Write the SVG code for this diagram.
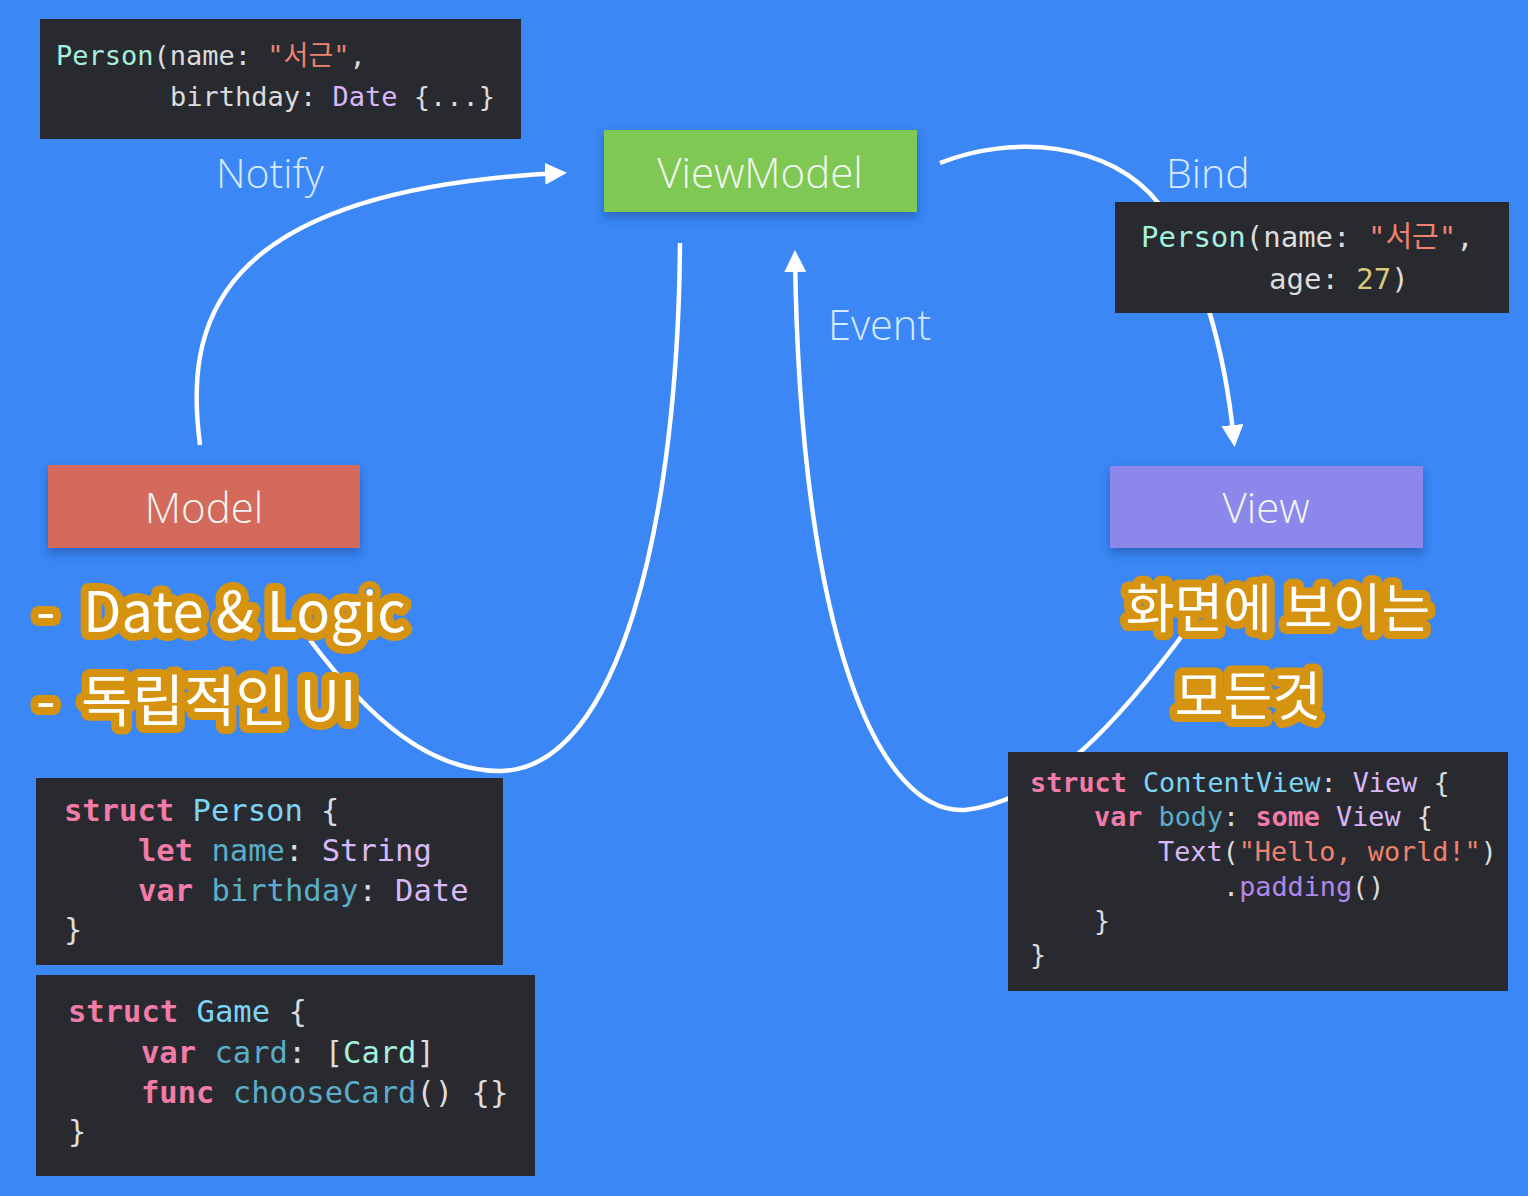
<svg xmlns="http://www.w3.org/2000/svg" width="1528" height="1196" viewBox="0 0 1528 1196">
<defs>
<style>
.code{font-family:"DejaVu Sans Mono","Liberation Mono","Noto Sans CJK KR",monospace;fill:#dcdcdc}
.k{fill:#f27ba8;font-weight:bold}
.ty{fill:#7cd5f5}
.pr{fill:#5aaec9}
.lv{fill:#d8b8f8}
.st{fill:#f0826f}
.mt{fill:#a5f0dc}
.nm{fill:#d9c97c}
.fn{fill:#b287ec}
.box{fill:#292a30}
.node-label{font-family:"Open Sans","Liberation Sans",sans-serif;font-weight:300;fill:#f2f6f2;text-anchor:middle}
.edge-label{font-family:"Open Sans","Liberation Sans",sans-serif;font-weight:300;fill:#d6e9ff}
.edge{fill:none;stroke:#ffffff;stroke-width:4.5}
.hl{font-family:"Noto Sans CJK KR","Noto Sans",sans-serif;font-weight:400;fill:#ffffff;stroke:#d6930f;stroke-width:16;stroke-linejoin:round;paint-order:stroke fill}
</style>
<marker id="arrow" markerUnits="userSpaceOnUse" markerWidth="24" markerHeight="24" refX="16" refY="11" orient="auto">
<path d="M0,0 L22,11 L0,22 z" fill="#ffffff"/>
</marker>
<filter id="shadow" x="-10%" y="-20%" width="120%" height="160%">
<feDropShadow dx="0" dy="5" stdDeviation="5" flood-color="#173a7a" flood-opacity="0.45"/>
</filter>
</defs>
<rect width="1528" height="1196" fill="#3a87f5"/>

<g id="connectors">
<path class="edge" d="M200,445 C185,330 205,190 561,173" marker-end="url(#arrow)"/>
<path class="edge" d="M940,163 C1010,135 1110,140 1160,205 C1200,260 1225,350 1234,441" marker-end="url(#arrow)"/>
<path class="edge" d="M680,243 C678,520 620,770 500,771 C430,771 370,720 310,640"/>
<path class="edge" d="M1190,625 C1120,720 1050,800 965,810 C880,815 800,640 795,256" marker-end="url(#arrow)"/>
</g>

<g id="edge-labels">
<text class="edge-label" x="216" y="188" font-size="41">Notify</text>
<text class="edge-label" x="1166" y="188" font-size="41">Bind</text>
<text class="edge-label" x="828" y="340" font-size="41.5">Event</text>
</g>

<g id="node-viewmodel">
<rect x="604" y="130" width="313" height="82" fill="#7ec852" filter="url(#shadow)"/>
<text class="node-label" x="760" y="188" font-size="42">ViewModel</text>
</g>
<g id="node-model">
<rect x="48" y="465" width="312" height="83" fill="#d46b5b" filter="url(#shadow)"/>
<text class="node-label" x="204" y="523" font-size="42">Model</text>
</g>
<g id="node-view">
<rect x="1110" y="466" width="313" height="82" fill="#8c87ea" filter="url(#shadow)"/>
<text class="node-label" x="1266" y="523" font-size="42">View</text>
</g>

<g id="code-notify">
<rect class="box" x="40" y="19" width="481" height="120"/>
<text class="code" font-size="27" x="56" y="65"><tspan class="mt">Person</tspan>(name: <tspan class="st">"서근"</tspan>,</text>
<text class="code" font-size="27" x="170" y="106">birthday: <tspan class="lv">Date</tspan> {...}</text>
</g>

<g id="code-bind">
<rect class="box" x="1115" y="202" width="394" height="111"/>
<text class="code" font-size="29" x="1141" y="247"><tspan class="mt">Person</tspan>(name: <tspan class="st">"서근"</tspan>,</text>
<text class="code" font-size="29" x="1269" y="289">age: <tspan class="nm">27</tspan>)</text>
</g>

<g id="code-person">
<rect class="box" x="36" y="778" width="467" height="187"/>
<text class="code" font-size="30.5" x="64" y="821"><tspan class="k">struct</tspan> <tspan class="ty">Person</tspan> {</text>
<text class="code" font-size="30.5" x="138" y="861"><tspan class="k">let</tspan> <tspan class="pr">name</tspan>: <tspan class="lv">String</tspan></text>
<text class="code" font-size="30.5" x="138" y="901"><tspan class="k">var</tspan> <tspan class="pr">birthday</tspan>: <tspan class="lv">Date</tspan></text>
<text class="code" font-size="30.5" x="64" y="940">}</text>
</g>

<g id="code-game">
<rect class="box" x="36" y="975" width="499" height="201"/>
<text class="code" font-size="30.5" x="68" y="1022"><tspan class="k">struct</tspan> <tspan class="ty">Game</tspan> {</text>
<text class="code" font-size="30.5" x="141" y="1063"><tspan class="k">var</tspan> <tspan class="pr">card</tspan>: [<tspan class="mt">Card</tspan>]</text>
<text class="code" font-size="30.5" x="141" y="1103"><tspan class="k">func</tspan> <tspan class="pr">chooseCard</tspan>() {}</text>
<text class="code" font-size="30.5" x="68" y="1142">}</text>
</g>

<g id="code-view">
<rect class="box" x="1008" y="752" width="500" height="239"/>
<text class="code" font-size="26.8" x="1030" y="792"><tspan class="k">struct</tspan> <tspan class="ty">ContentView</tspan>: <tspan class="lv">View</tspan> {</text>
<text class="code" font-size="26.8" x="1094" y="826"><tspan class="k">var</tspan> <tspan class="pr">body</tspan>: <tspan class="k">some</tspan> <tspan class="lv">View</tspan> {</text>
<text class="code" font-size="26.8" x="1158" y="861"><tspan class="lv">Text</tspan>(<tspan class="st">"Hello, world!"</tspan>)</text>
<text class="code" font-size="26.8" x="1223" y="896">.<tspan class="fn">padding</tspan>()</text>
<text class="code" font-size="26.8" x="1094" y="930">}</text>
<text class="code" font-size="26.8" x="1030" y="964">}</text>
</g>

<g id="notes">
<text class="hl" font-size="56"><tspan x="36" y="632">-</tspan><tspan x="83" y="632">Date &amp; Logic</tspan></text>
<text class="hl" font-size="56"><tspan x="36" y="721">-</tspan><tspan x="81" y="721">독립적인 UI</tspan></text>
<text class="hl" x="1278" y="628" font-size="53" text-anchor="middle">화면에 보이는</text>
<text class="hl" x="1248" y="716" font-size="53" text-anchor="middle">모든것</text>
</g>
</svg>
